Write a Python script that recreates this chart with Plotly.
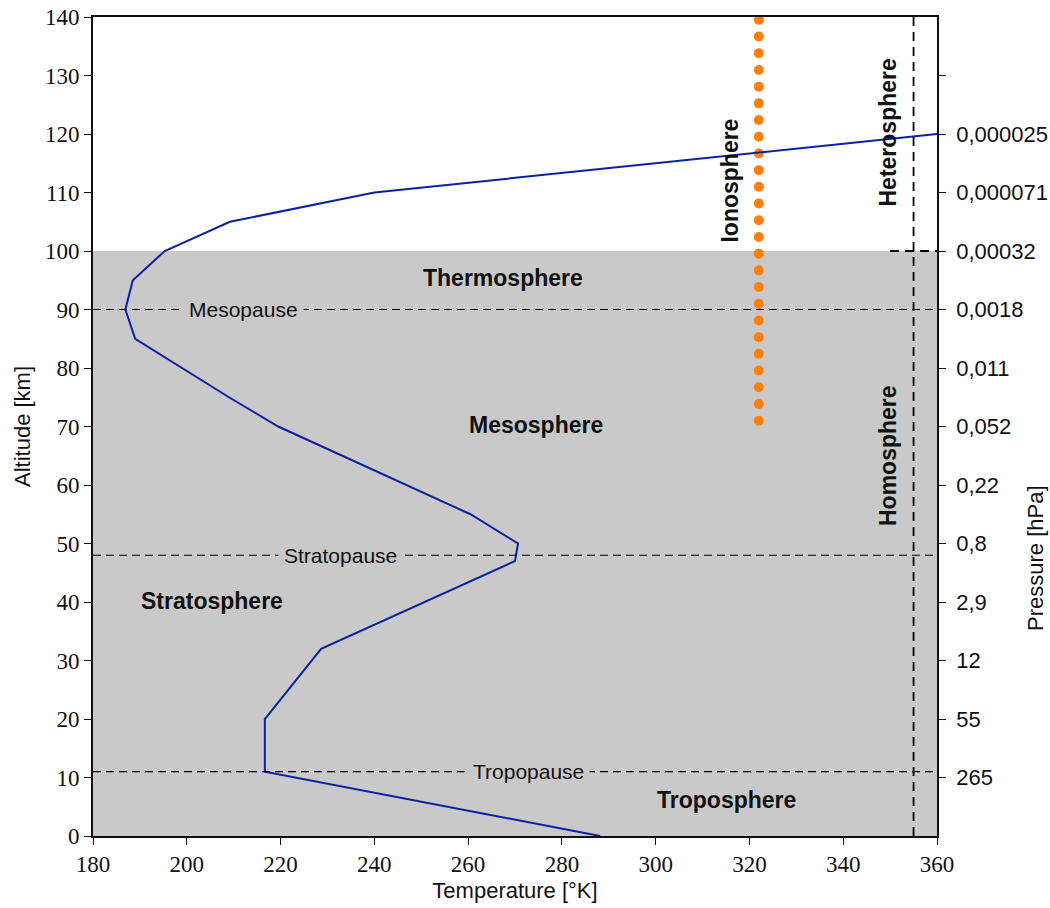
import plotly.graph_objects as go

# Standard atmosphere temperature profile
temperature_K = [288.15, 216.65, 216.65, 228.65, 270.0, 270.65, 260.5, 219.5, 209.0, 189.0, 186.9, 188.5, 195.3, 209.2, 240.0, 360.0]
altitude_km = [0, 11, 20, 32, 47, 50, 55, 70, 75, 85, 90, 95, 100, 105, 110, 120]

# Pressure scale on the right axis
pressure_alt_km = [10, 20, 30, 40, 50, 60, 70, 80, 90, 100, 110, 120, 130]
pressure_labels = ["265", "55", "12", "2,9", "0,8", "0,22", "0,052", "0,011", "0,0018",
                   "0,00032", "0,000071", "0,000025", ""]

# Boundary layers
pause_names = ["Tropopause", "Stratopause", "Mesopause"]
pause_alt_km = [11, 48, 90]
pause_label_T = [272.8, 232.7, 212.0]

layer_names = ["Troposphere", "Stratosphere", "Mesosphere", "Thermosphere"]
layer_T = [315.2, 205.4, 274.5, 267.4]
layer_alt = [6.2, 40.2, 70.3, 95.4]

# Ionosphere extent and homo/heterosphere boundary
iono_T = [322, 322]
iono_alt = [71, 140]
turbopause_T = 355
turbopause_alt = 100
homosphere_top = 100

T_range = [180, 360]
alt_range = [0, 140]

GREY = "#c9c9c9"
SERIF = "Liberation Serif, DejaVu Serif, serif"
SANS = "Liberation Sans, Arial, sans-serif"

fig = go.Figure()

fig.add_trace(go.Scatter(
    x=iono_T, y=iono_alt, mode="lines",
    line=dict(color="#ff7f0e", width=10, dash="0px,16.7px"),
    hoverinfo="skip", showlegend=False,
))

fig.add_trace(go.Scatter(
    x=temperature_K, y=altitude_km, mode="lines",
    line=dict(color="#0a22a0", width=2),
    showlegend=False,
))

# invisible trace to anchor the pressure axis
fig.add_trace(go.Scatter(x=[None], y=[None], yaxis="y2", showlegend=False, hoverinfo="skip"))

shapes = [
    dict(type="rect", xref="x", yref="y", x0=T_range[0], x1=T_range[1], y0=0, y1=homosphere_top,
         fillcolor=GREY, line=dict(width=0), layer="below"),
]
for a in pause_alt_km:
    shapes.append(dict(type="line", xref="x", yref="y", x0=T_range[0], x1=T_range[1], y0=a, y1=a,
                       line=dict(color="black", width=1.1, dash="8px,5px"), layer="above"))
shapes.append(dict(type="line", xref="x", yref="y", x0=turbopause_T, x1=turbopause_T,
                   y0=alt_range[0], y1=alt_range[1],
                   line=dict(color="black", width=1.8, dash="9px,6px")))
shapes.append(dict(type="line", xref="x", yref="y", x0=350, x1=T_range[1],
                   y0=turbopause_alt, y1=turbopause_alt,
                   line=dict(color="black", width=1.8, dash="9px,6px")))

annotations = []
for name, t, a in zip(pause_names, pause_label_T, pause_alt_km):
    annotations.append(dict(x=t, y=a, xref="x", yref="y", text=name, showarrow=False,
                            font=dict(family=SANS, size=21, color="#111"),
                            bgcolor=GREY, borderpad=5))
for name, t, a in zip(layer_names, layer_T, layer_alt):
    annotations.append(dict(x=t, y=a, xref="x", yref="y", text="<b>%s</b>" % name, showarrow=False,
                            font=dict(family=SANS, size=23, color="#111")))
annotations += [
    dict(x=315.8, y=112, xref="x", yref="y", text="<b>Ionosphere</b>", textangle=-90,
         showarrow=False, font=dict(family=SANS, size=23, color="#111")),
    dict(x=349.6, y=120.3, xref="x", yref="y", text="<b>Heterosphere</b>", textangle=-90,
         showarrow=False, font=dict(family=SANS, size=23, color="#111")),
    dict(x=349.6, y=65, xref="x", yref="y", text="<b>Homosphere</b>", textangle=-90,
         showarrow=False, font=dict(family=SANS, size=23, color="#111")),
    dict(x=(1035 - 93) / 844, y=(836 - 558) / 819, xref="paper", yref="paper",
         xanchor="center", yanchor="middle", text="Pressure [hPa]", textangle=-90,
         showarrow=False, font=dict(family=SANS, size=22, color="#111")),
]

axis_common = dict(showgrid=False, zeroline=False, showline=True, linecolor="#111", linewidth=1.6,
                   ticks="outside", ticklen=7, tickwidth=1.2, tickcolor="#111", automargin=False)

fig.update_layout(
    width=1050, height=908,
    margin=dict(l=93, r=113, t=17, b=72, autoexpand=False),
    paper_bgcolor="white", plot_bgcolor="white",
    font=dict(family=SANS),
    shapes=shapes, annotations=annotations,
    xaxis=dict(range=T_range, tickvals=list(range(180, 361, 20)), mirror=True,
               tickfont=dict(family=SERIF, size=23, color="#111"),
               title=dict(text="Temperature [°K]", font=dict(family=SANS, size=22, color="#111"), standoff=6),
               **axis_common),
    yaxis=dict(range=alt_range, tickvals=list(range(0, 141, 10)),
               tickfont=dict(family=SERIF, size=23, color="#111"),
               title=dict(text="Altitude [km]", font=dict(family=SANS, size=22, color="#111"), standoff=8),
               **axis_common),
    yaxis2=dict(range=alt_range, overlaying="y", side="right", tickvals=pressure_alt_km,
                ticktext=pressure_labels, tickfont=dict(family=SANS, size=22, color="#111"),
                ticklabelstandoff=6, **axis_common),
)

round_caps = """
document.querySelectorAll('path.js-line').forEach(function(p){
  if (p.style.stroke === 'rgb(255, 127, 14)') { p.style.strokeLinecap = 'round'; }
});
"""

fig.write_html("out.html", post_script=round_caps)
